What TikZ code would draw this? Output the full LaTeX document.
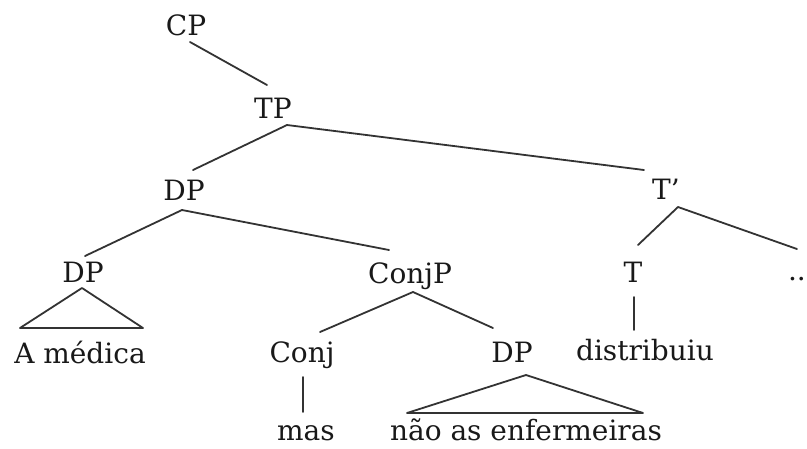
\documentclass[tikz,border=0pt]{standalone}
\usepackage{fontspec}
\setmainfont{DejaVu Serif}
\usetikzlibrary{calc}
\tikzset{
  lbl/.style={anchor=base, inner sep=0pt, font=\fontsize{28}{32}\selectfont, text=black!90},
  edge/.style={line width=1.8pt, draw=black!80, line cap=round, line join=round},
}
\begin{document}
\begin{tikzpicture}[x=1pt, y=-1pt]
\useasboundingbox (0,0) rectangle (807,448);
% nodes
\node[lbl] (CP) at (186,35) {CP};
\node[lbl] (TP) at (273,118) {TP};
\node[lbl] (DPa) at (184,200) {DP};
\node[lbl] (Tbar) at (666,199) {T’};
\node[lbl] (DPb) at (83,282) {DP};
\node[lbl] (ConjP) at (410,283) {ConjP};
\node[lbl] (T) at (633,282) {T};
\node[lbl, anchor=base east] (dots) at (806,280) {..};
\node[lbl] (Conj) at (302,362) {Conj};
\node[lbl] (DPc) at (512,362) {DP};
\node[lbl] (Amed) at (80,363) {A médica};
\node[lbl] (distr) at (645,360) {distribuiu};
\node[lbl] (mas) at (306,440) {mas};
\node[lbl] (nao) at (526,440) {não as enfermeiras};
% edges
\draw[edge] ($(CP.base)+(4,7)$) -- ($(TP.base)+(-6,-33)$);
\draw[edge] ($(DPa.base)+(9,-30)$) -- ($(TP.base)+(14,7)$) -- ($(Tbar.base)+(-22,-29)$);
\draw[edge] ($(DPb.base)+(2,-26)$) -- ($(DPa.base)+(-2,10)$) -- ($(ConjP.base)+(-21,-33)$);
\draw[edge] ($(T.base)+(5,-37)$) -- ($(Tbar.base)+(12,8)$) -- ($(dots.base east)+(-9,-31)$);
\draw[edge] ($(DPb.base)+(-1,6)$) -- ($(DPb.base)+(-63,46)$) -- ($(DPb.base)+(60,46)$) -- cycle;
\draw[edge] ($(Conj.base)+(18,-30)$) -- ($(ConjP.base)+(3,9)$) -- ($(DPc.base)+(-19,-34)$);
\draw[edge] ($(T.base)+(1,15)$) -- ($(distr.base)+(-11,-30)$);
\draw[edge] ($(Conj.base)+(1,15)$) -- ($(mas.base)+(-3,-28)$);
\draw[edge] ($(DPc.base)+(14,13)$) -- ($(DPc.base)+(-105,51)$) -- ($(DPc.base)+(131,51)$) -- cycle;
\end{tikzpicture}
\end{document}
